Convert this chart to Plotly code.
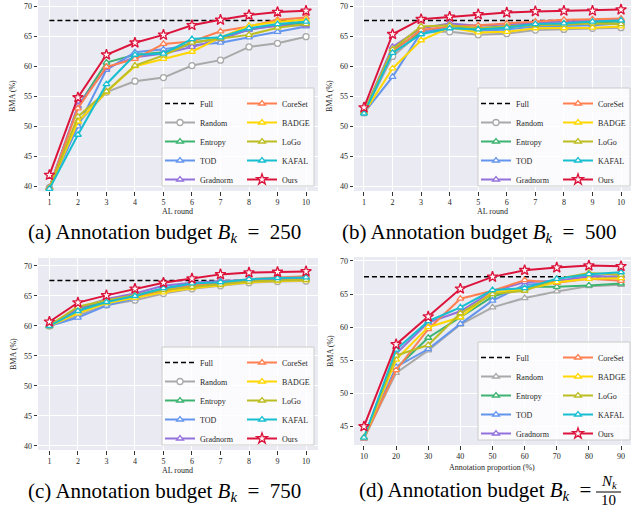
import plotly.graph_objects as go

W, H = 631, 507

rounds = [1, 2, 3, 4, 5, 6, 7, 8, 9, 10]
proportions = [10, 20, 30, 40, 50, 60, 70, 80, 90]
full_value = 67.6

methods = ["Random", "Entropy", "TOD", "Gradnorm", "CoreSet", "BADGE", "LoGo", "KAFAL", "Ours"]
colors = {
    "Full": "#000000",
    "Random": "#A9A9A9",
    "Entropy": "#3CB371",
    "TOD": "#6495ED",
    "Gradnorm": "#9370DB",
    "CoreSet": "#FF7F50",
    "BADGE": "#FFD700",
    "LoGo": "#BCBD22",
    "KAFAL": "#17BECF",
    "Ours": "#DC143C",
}

# (a) B_k = 250
random_a = [39.8, 50.5, 55.7, 57.5, 58.1, 60.1, 61.0, 63.2, 63.8, 64.9]
entropy_a = [39.8, 53.3, 60.6, 61.9, 62.3, 63.9, 64.6, 66.1, 66.8, 67.2]
tod_a = [39.7, 50.0, 59.4, 62.3, 62.8, 63.5, 63.9, 64.8, 65.7, 66.6]
gradnorm_a = [39.8, 53.4, 59.7, 61.5, 62.1, 63.2, 64.5, 66.1, 66.7, 66.8]
coreset_a = [39.8, 53.0, 59.9, 61.2, 63.7, 64.1, 65.8, 66.6, 67.7, 68.1]
badge_a = [39.7, 50.8, 55.7, 60.0, 61.2, 62.4, 64.8, 66.7, 67.4, 67.7]
logo_a = [39.7, 51.6, 55.8, 60.1, 61.8, 63.9, 64.6, 65.2, 66.4, 67.0]
kafal_a = [39.6, 48.6, 57.0, 61.9, 62.1, 64.5, 64.8, 66.3, 67.0, 67.4]
ours_a = [41.9, 54.8, 61.9, 63.9, 65.2, 66.8, 67.7, 68.5, 69.0, 69.2]

# (b) B_k = 500
random_b = [52.2, 61.6, 65.7, 65.7, 65.2, 65.4, 66.0, 66.1, 66.3, 66.4]
entropy_b = [52.3, 62.7, 65.7, 66.4, 66.3, 66.7, 67.0, 67.1, 67.2, 67.4]
tod_b = [52.2, 58.2, 65.6, 66.5, 65.9, 66.1, 66.6, 66.7, 66.8, 67.1]
gradnorm_b = [52.4, 63.2, 66.3, 67.1, 66.7, 67.0, 67.2, 67.4, 67.6, 67.7]
coreset_b = [52.3, 62.4, 66.0, 66.6, 66.8, 67.1, 67.4, 67.7, 67.8, 67.9]
badge_b = [52.2, 59.6, 64.3, 66.4, 65.6, 65.7, 66.3, 66.3, 66.4, 66.6]
logo_b = [52.4, 62.8, 66.6, 66.8, 66.3, 66.6, 66.8, 66.9, 67.1, 67.0]
kafal_b = [52.1, 62.2, 65.3, 66.3, 66.1, 66.4, 67.0, 67.1, 67.4, 67.6]
ours_b = [53.1, 65.3, 67.8, 68.2, 68.6, 68.9, 69.1, 69.2, 69.2, 69.4]

# (c) B_k = 750
random_c = [60.0, 61.8, 63.5, 64.3, 65.4, 66.2, 66.7, 67.2, 67.4, 67.5]
entropy_c = [60.0, 62.8, 64.1, 65.2, 66.2, 66.9, 67.1, 67.6, 67.8, 67.9]
tod_c = [60.0, 61.4, 63.4, 64.6, 66.1, 66.8, 67.1, 67.5, 67.7, 67.8]
gradnorm_c = [60.1, 62.9, 64.5, 65.4, 66.7, 67.2, 67.5, 67.7, 67.9, 68.0]
coreset_c = [60.0, 62.4, 63.9, 64.9, 65.8, 66.7, 67.2, 67.8, 68.1, 68.3]
badge_c = [60.0, 62.1, 63.8, 64.7, 65.6, 66.3, 66.8, 67.3, 67.5, 67.6]
logo_c = [60.1, 63.2, 64.3, 65.1, 66.0, 66.5, 66.9, 67.4, 67.6, 67.7]
kafal_c = [60.0, 62.5, 64.0, 65.0, 66.3, 67.1, 67.3, 67.8, 68.0, 68.1]
ours_c = [60.7, 63.9, 65.1, 66.2, 67.2, 67.9, 68.6, 68.9, 69.0, 69.1]

# (d) B_k = N_k / 10
random_d = [43.2, 53.1, 56.5, 60.4, 63.0, 64.4, 65.4, 66.2, 66.4]
entropy_d = [43.3, 53.8, 58.4, 61.5, 64.6, 66.1, 66.1, 66.3, 66.6]
tod_d = [43.2, 54.0, 56.7, 60.5, 64.0, 66.4, 66.7, 67.9, 67.3]
gradnorm_d = [43.3, 56.0, 60.7, 62.4, 65.4, 66.8, 67.0, 67.6, 67.7]
coreset_d = [43.2, 53.5, 59.7, 64.3, 65.5, 67.1, 66.7, 67.3, 67.0]
badge_d = [43.3, 55.1, 60.0, 61.5, 65.3, 65.7, 66.8, 67.3, 67.4]
logo_d = [43.3, 55.7, 57.3, 62.1, 65.0, 65.5, 67.3, 68.2, 67.9]
kafal_d = [43.3, 56.6, 60.9, 63.0, 65.6, 65.9, 67.3, 68.0, 68.3]
ours_d = [45.0, 57.4, 61.6, 65.8, 67.6, 68.6, 69.0, 69.3, 69.2]

panels = [
    dict(x=rounds, series=[random_a, entropy_a, tod_a, gradnorm_a, coreset_a, badge_a, logo_a, kafal_a, ours_a],
         random_symbol="circle", xa="x", ya="y", legs=("legend", "legend2")),
    dict(x=rounds, series=[random_b, entropy_b, tod_b, gradnorm_b, coreset_b, badge_b, logo_b, kafal_b, ours_b],
         random_symbol="circle", xa="x2", ya="y2", legs=("legend3", "legend4")),
    dict(x=rounds, series=[random_c, entropy_c, tod_c, gradnorm_c, coreset_c, badge_c, logo_c, kafal_c, ours_c],
         random_symbol="circle", xa="x3", ya="y3", legs=("legend5", "legend6")),
    dict(x=proportions, series=[random_d, entropy_d, tod_d, gradnorm_d, coreset_d, badge_d, logo_d, kafal_d, ours_d],
         random_symbol="triangle-up", xa="x4", ya="y4", legs=("legend7", "legend8")),
]

col1 = {"Random", "Entropy", "TOD", "Gradnorm"}

fig = go.Figure()
for p in panels:
    xs = p["x"]
    fig.add_trace(go.Scatter(
        x=[xs[0], xs[-1]], y=[full_value, full_value], mode="lines", name="Full",
        line=dict(color=colors["Full"], width=1.5, dash="5px,3px"),
        xaxis=p["xa"], yaxis=p["ya"], legend=p["legs"][0]))
    for name, ys in zip(methods, p["series"]):
        if name == "Ours":
            sym, size = "star", 8
        elif name == "Random":
            sym, size = p["random_symbol"], 6
        else:
            sym, size = "triangle-up", 6
        fig.add_trace(go.Scatter(
            x=xs, y=ys, mode="lines+markers", name=name,
            line=dict(color=colors[name], width=2),
            marker=dict(symbol=sym, size=size, color="white",
                        line=dict(color=colors[name], width=1.3)),
            xaxis=p["xa"], yaxis=p["ya"],
            legend=p["legs"][0] if name in col1 else p["legs"][1]))

tickfont = dict(family="Liberation Serif", size=8, color="#262626")
titlefont = dict(family="Liberation Serif", size=8, color="#262626")


def ax(domain, rng, dtick, anchor):
    return dict(domain=domain, range=rng, dtick=dtick, tick0=0,
                showgrid=True, gridcolor="white", gridwidth=1,
                zeroline=False, showline=False,
                ticks="outside", ticklen=3.5, tickwidth=1, tickcolor="#333333",
                tickfont=tickfont, automargin=False, anchor=anchor)


dom_x_left = [38 / W, 318 / W]
dom_x_right = [354 / W, 1.0]

fig.update_layout(
    width=W, height=H,
    margin=dict(l=0, r=0, t=0, b=0),
    paper_bgcolor="white",
    plot_bgcolor="#EAEAF2",
    font=dict(family="Liberation Serif"),
    xaxis=ax(dom_x_left, [0.6, 10.42], 1, "y"),
    yaxis=ax([1 - 191 / H, 1.0], [39.25, 71.0], 5, "x"),
    xaxis2=ax(dom_x_right, [0.65, 10.35], 1, "y2"),
    yaxis2=ax([1 - 191 / H, 1.0], [39.2, 71.0], 5, "x2"),
    xaxis3=ax(dom_x_left, [0.6, 10.42], 1, "y3"),
    yaxis3=ax([1 - 450 / H, 1 - 258 / H], [39.33, 71.33], 5, "x3"),
    xaxis4=ax(dom_x_right, [6.9, 93.1], 10, "y4"),
    yaxis4=ax([1 - 445 / H, 1 - 257 / H], [42.2, 70.6], 5, "x4"),
)

# legends: two columns per panel inside a shared frame
legfont = dict(family="Liberation Serif", size=8, color="#262626")
leg_boxes = [  # (right px, bottom px)
    (314, 186), (630, 186), (314, 445), (630, 440)
]
box_w, box_h = 152, 98
col2_w = 72
shapes = []
for i, (rx, by) in enumerate(leg_boxes):
    lx = rx - box_w
    ty = by - box_h
    shapes.append(dict(type="rect", xref="paper", yref="paper", layer="above",
                       x0=lx / W, x1=rx / W, y0=1 - by / H, y1=1 - ty / H,
                       fillcolor="rgba(255,255,255,0.8)",
                       line=dict(color="#CCCCCC", width=1)))
    n1 = "legend" if i == 0 else f"legend{2 * i + 1}"
    n2 = f"legend{2 * i + 2}"
    fig.layout[n1] = dict(x=(lx - 2) / W, y=1 - (ty + 1) / H, xanchor="left", yanchor="top",
                          bgcolor="rgba(0,0,0,0)", borderwidth=0, font=legfont,
                          itemwidth=30, tracegroupgap=0)
    fig.layout[n2] = dict(x=(rx - col2_w) / W, y=1 - (ty + 1) / H, xanchor="left", yanchor="top",
                          bgcolor="rgba(0,0,0,0)", borderwidth=0, font=legfont,
                          itemwidth=30, tracegroupgap=0)

annotations = []
# axis titles
for (xc, yc, txt) in [(178, 211, "AL round"), (492, 211, "AL round"),
                      (178, 470, "AL round"), (492, 467, "Annotation proportion (%)")]:
    annotations.append(dict(text=txt, x=xc / W, y=1 - yc / H, xref="paper", yref="paper",
                            showarrow=False, font=titlefont, xanchor="center", yanchor="middle"))
for (xc, yc) in [(13, 96), (330, 96), (13, 354), (330, 351)]:
    annotations.append(dict(text="BMA (%)", x=xc / W, y=1 - yc / H, xref="paper", yref="paper",
                            showarrow=False, font=titlefont, textangle=-90,
                            xanchor="center", yanchor="middle"))

capfont = dict(family="Liberation Serif", size=21, color="black")
eq = "&nbsp; =&nbsp; "
for (xc, yc, lab, val) in [(164, 233, "a", "250"), (479, 233, "b", "500"), (164, 492, "c", "750")]:
    annotations.append(dict(text=f"({lab}) Annotation budget <i>B<sub>k</sub></i>{eq}{val}",
                            x=xc / W, y=1 - yc / H, xref="paper", yref="paper",
                            showarrow=False, font=capfont, xanchor="center", yanchor="middle"))
annotations += [
    dict(text="(d) Annotation budget <i>B<sub>k</sub></i>&nbsp; =", x=593 / W, y=1 - 491 / H,
         xref="paper", yref="paper", showarrow=False, font=capfont,
         xanchor="right", yanchor="middle"),
    dict(text="<i>N<sub>k</sub></i>", x=609 / W, y=1 - 482 / H,
         xref="paper", yref="paper", showarrow=False,
         font=dict(family="Liberation Serif", size=15, color="black"),
         xanchor="center", yanchor="middle"),
    dict(text="10", x=608 / W, y=1 - 500 / H,
         xref="paper", yref="paper", showarrow=False,
         font=dict(family="Liberation Serif", size=15, color="black"),
         xanchor="center", yanchor="middle"),
]
shapes.append(dict(type="line", xref="paper", yref="paper",
                   x0=596 / W, x1=621 / W, y0=1 - 492 / H, y1=1 - 492 / H,
                   line=dict(color="black", width=1)))

fig.update_layout(annotations=annotations, shapes=shapes)

fig.write_html("out.html")
